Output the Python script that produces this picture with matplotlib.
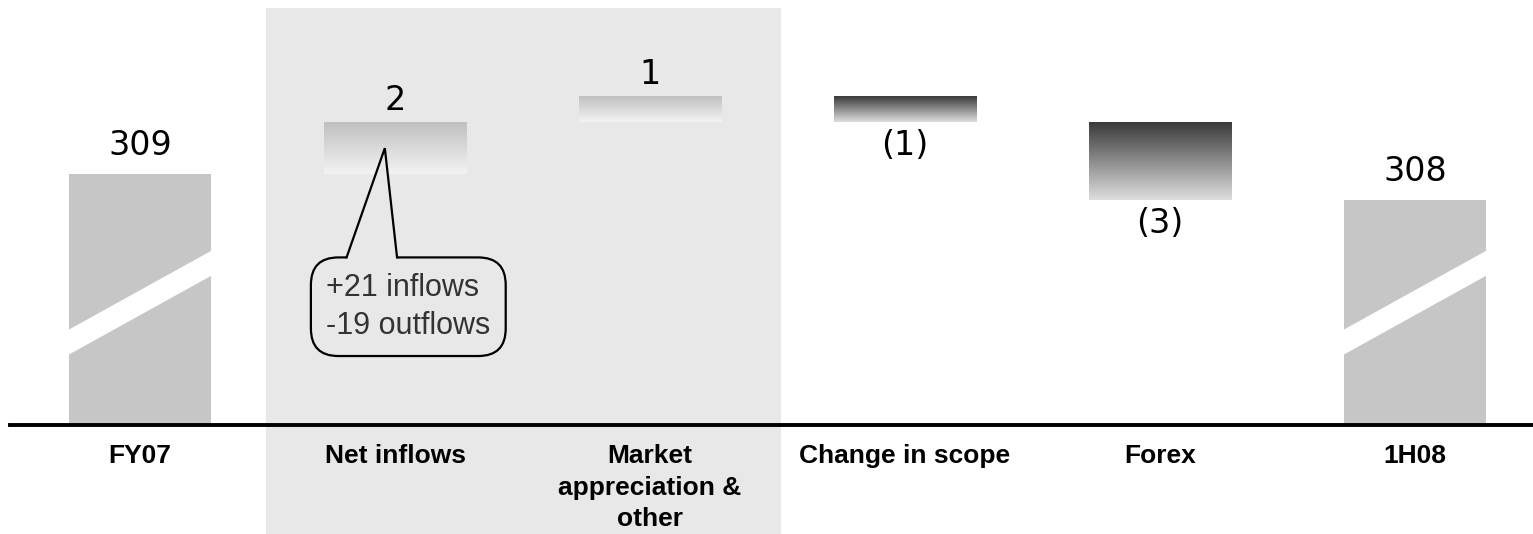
import numpy as np
import matplotlib
matplotlib.use("Agg")
import matplotlib.pyplot as plt
from matplotlib.patches import Polygon
from matplotlib.colors import LinearSegmentedColormap

# data
categories = ["FY07", "Net inflows", "Market\nappreciation &\nother",
              "Change in scope", "Forex", "1H08"]
start_total = 309
end_total = 308
deltas = [2, 1, -1, -3]
value_labels = ["309", "2", "1", "(1)", "(3)", "308"]
callout_text = "+21 inflows\n-19 outflows"

W, H = 1533, 534
fig = plt.figure(figsize=(W / 100, H / 100), dpi=100)
# axes bottom edge is the baseline of the chart
ax = fig.add_axes([10 / W, 109 / H, 1523 / W, 425 / H])
x = np.arange(len(categories))
xlim = (-0.51, 5.463)
ymin, ymax = 299.35, 315.7
bar_w = 0.56

# shaded group (net inflows + market)
ax.axvspan(0.494, 2.514, ymin=-109 / 425, ymax=1 - 8 / 425,
           color="#e8e8e8", zorder=0, clip_on=False, lw=0)

# totals (broken axis)
totals = [start_total, end_total]
tot_x = [x[0], x[-1]]
ax.bar(tot_x, [t - ymin for t in totals], bottom=ymin, width=bar_w,
       color="#c6c6c6", zorder=2)
for xi in tot_x:
    x0, x1 = xi - bar_w / 2 - 0.01, xi + bar_w / 2 + 0.01
    lo0, lo1 = ymin + 2.65, ymin + 5.8
    th = 0.96
    ax.add_patch(Polygon([(x0, lo0), (x1, lo1), (x1, lo1 + th), (x0, lo0 + th)],
                         closed=True, fc="white", ec="none", zorder=3))

# floating bars with gradient fill
light = LinearSegmentedColormap.from_list("light", ["#f3f3f3", "#c0c0c0"])
dark = LinearSegmentedColormap.from_list("dark", ["#dedede", "#3a3a3a"])
grad = np.linspace(0, 1, 256).reshape(-1, 1)
level = start_total
float_tops, float_bots = [], []
for i, d in enumerate(deltas):
    xi = x[i + 1]
    lo, hi = min(level, level + d), max(level, level + d)
    cmap = light if d > 0 else dark
    ax.imshow(grad, cmap=cmap, origin="lower", aspect="auto",
              extent=[xi - bar_w / 2, xi + bar_w / 2, lo, hi], zorder=2)
    float_tops.append(hi)
    float_bots.append(lo)
    level += d

# value labels
lab_font = dict(fontsize=24, family="DejaVu Sans", color="black")
ax.annotate(value_labels[0], (x[0], start_total), xytext=(0, 9),
            textcoords="offset points", ha="center", va="bottom", **lab_font)
ax.annotate(value_labels[-1], (x[-1], end_total), xytext=(0, 9),
            textcoords="offset points", ha="center", va="bottom", **lab_font)
for i, d in enumerate(deltas):
    xi = x[i + 1]
    if d > 0:
        ax.annotate(value_labels[i + 1], (xi, float_tops[i]), xytext=(0, 4),
                    textcoords="offset points", ha="center", va="bottom", **lab_font)
    else:
        ax.annotate(value_labels[i + 1], (xi, float_bots[i]), xytext=(0, -5),
                    textcoords="offset points", ha="center", va="top", **lab_font)

ax.set_xlim(*xlim)
ax.set_ylim(ymin, ymax)

# callout on net inflows
net_x = x[1]
txt = ax.text(net_x - 0.27, 303.9, callout_text, ha="left", va="center",
              fontsize=22, family="Liberation Sans", color="#333333",
              linespacing=1.35, zorder=5,
              bbox=dict(boxstyle="round,pad=0.5,rounding_size=0.9",
                        fc="#e8e8e8", ec="black", lw=1.6))
fig.canvas.draw()
bb = txt.get_bbox_patch().get_window_extent(fig.canvas.get_renderer())
box_top = ax.transData.inverted().transform((0, bb.y1))[1]
tip = (net_x - 0.04, (float_tops[0] + float_bots[0]) / 2)
b1, b2 = net_x - 0.19, net_x + 0.008
ax.add_patch(Polygon([(b1, box_top - 0.15), (b1, box_top), tip, (b2, box_top),
                      (b2, box_top - 0.15)], closed=True, fc="#e8e8e8",
                     ec="none", zorder=6))
ax.plot([b1, tip[0], b2], [box_top, tip[1], box_top], color="black",
        lw=1.6, zorder=7, solid_joinstyle="miter")

# axis styling: only the baseline
for s in ["top", "left", "right"]:
    ax.spines[s].set_visible(False)
ax.spines["bottom"].set_linewidth(2.8)
ax.spines["bottom"].set_zorder(8)
ax.set_yticks([])
ax.set_xticks(x)
ax.set_xticklabels(categories, fontsize=19, fontweight="bold",
                   family="Liberation Sans", linespacing=1.38)
ax.tick_params(axis="x", length=0, pad=14)
ax.patch.set_alpha(0)

fig.savefig("out.png", dpi=100)
